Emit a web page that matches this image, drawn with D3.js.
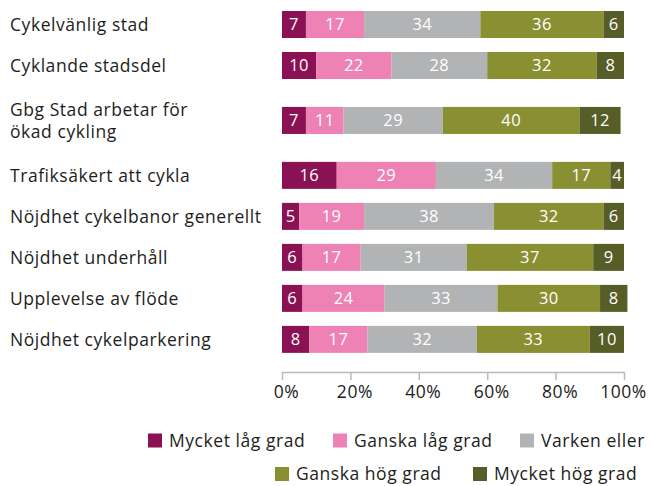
<!DOCTYPE html>
<html>
<head>
<meta charset="utf-8">
<script src="https://cdn.jsdelivr.net/npm/d3@7"></script>
<style>
  body { margin: 0; background: #fff; }
  svg { display: block; font-family: "Open Sans", sans-serif; }
  .lbl { font-size: 17.5px; letter-spacing: 0.55px; fill: #1d1d1b; }
</style>
</head>
<body>
<svg id="chart"></svg>
<script>
const categories = [
    "Cykelvänlig stad",
    "Cyklande stadsdel",
    "Gbg Stad arbetar för\nökad cykling",
    "Trafiksäkert att cykla",
    "Nöjdhet cykelbanor generellt",
    "Nöjdhet underhåll",
    "Upplevelse av flöde",
    "Nöjdhet cykelparkering"
];

const seriesNames = ["Mycket låg grad", "Ganska låg grad", "Varken eller", "Ganska hög grad", "Mycket hög grad"];
const seriesColors = ["#8a1153", "#ee82b5", "#b1b3b4", "#8a8f32", "#565d27"];

const mycketLag = [7, 10, 7, 16, 5, 6, 6, 8];
const ganskaLag = [17, 22, 11, 29, 19, 17, 24, 17];
const varken = [34, 28, 29, 34, 38, 31, 33, 32];
const ganskaHog = [36, 32, 40, 17, 32, 37, 30, 33];
const mycketHog = [6, 8, 12, 4, 6, 9, 8, 10];

const tickValues = [0, 20, 40, 60, 80, 100];

const width = 650;
const height = 486;
const svg = d3.select("#chart")
    .attr("width", width)
    .attr("height", height);

const series = [mycketLag, ganskaLag, varken, ganskaHog, mycketHog];

// rows with a two-line label get some extra room above and below
const slots = [];
let pos = 0;
categories.forEach((c, i) => {
    if (i > 0) {
        pos += 1;
        if (c.includes("\n") || categories[i - 1].includes("\n")) pos += 0.34;
    }
    slots.push(pos);
});

const x = d3.scaleLinear().domain([0, 100]).range([282, 624]);
const y = d3.scaleLinear().domain([0, 1]).range([24.5, 65.5]);
const barHeight = 27;

const rows = categories.map((c, i) => {
    let start = 0;
    const segs = series.map((s, k) => {
        const seg = { key: k, start: start, value: s[i] };
        start += s[i];
        return seg;
    });
    return { label: c, slot: slots[i], segs: segs };
});

const rowG = svg.selectAll("g.row")
    .data(rows)
    .enter().append("g")
    .attr("class", "row")
    .attr("transform", d => `translate(0,${y(d.slot)})`);

rowG.selectAll("rect")
    .data(d => d.segs)
    .enter().append("rect")
    .attr("x", d => x(d.start))
    .attr("y", -barHeight / 2)
    .attr("width", d => x(d.start + d.value) - x(d.start))
    .attr("height", barHeight)
    .attr("fill", d => seriesColors[d.key]);

rowG.selectAll("text.val")
    .data(d => d.segs)
    .enter().append("text")
    .attr("class", "val")
    .attr("x", d => (x(d.start) + x(d.start + d.value)) / 2)
    .attr("y", 0)
    .attr("dy", "0.36em")
    .attr("text-anchor", "middle")
    .attr("fill", "#fff")
    .style("font-size", "16.5px")
    .style("letter-spacing", "0.4px")
    .text(d => d.value);

rowG.append("text")
    .attr("class", "lbl")
    .attr("x", 10)
    .each(function(d) {
        const lines = d.label.split("\n");
        const t = d3.select(this);
        lines.forEach((line, j) => {
            t.append("tspan")
                .attr("x", 10)
                .attr("y", (j - (lines.length - 1) / 2) * 22)
                .attr("dy", "0.36em")
                .text(line);
        });
    });

const axis = svg.append("g")
    .attr("transform", "translate(0,372)")
    .call(d3.axisBottom(x)
        .tickValues(tickValues)
        .tickFormat(d => d + "%")
        .tickSize(8)
        .tickSizeOuter(0));
axis.select(".domain").attr("stroke", "#b9b9b9").attr("stroke-width", 1.5);
axis.selectAll(".tick line").attr("stroke", "#b9b9b9").attr("stroke-width", 1.5);
axis.selectAll(".tick text")
    .attr("class", "lbl")
    .attr("y", 14)
    .attr("dx", d => d === 100 ? -1 : 4)
    .attr("fill", null)
    .style("font-family", "'Open Sans', sans-serif");

// legend
const legendPos = [[148, 440.5], [333, 440.5], [520, 440.5], [275, 474], [473, 474]];
const legend = svg.selectAll("g.leg")
    .data(seriesNames)
    .enter().append("g")
    .attr("class", "leg")
    .attr("transform", (d, i) => `translate(${legendPos[i][0]},${legendPos[i][1]})`);
legend.append("rect")
    .attr("x", 0)
    .attr("y", -7)
    .attr("width", 14)
    .attr("height", 14)
    .attr("fill", (d, i) => seriesColors[i]);
legend.append("text")
    .attr("class", "lbl")
    .attr("x", 21)
    .attr("y", 0)
    .attr("dy", "0.36em")
    .text(d => d);
</script>
</body>
</html>
